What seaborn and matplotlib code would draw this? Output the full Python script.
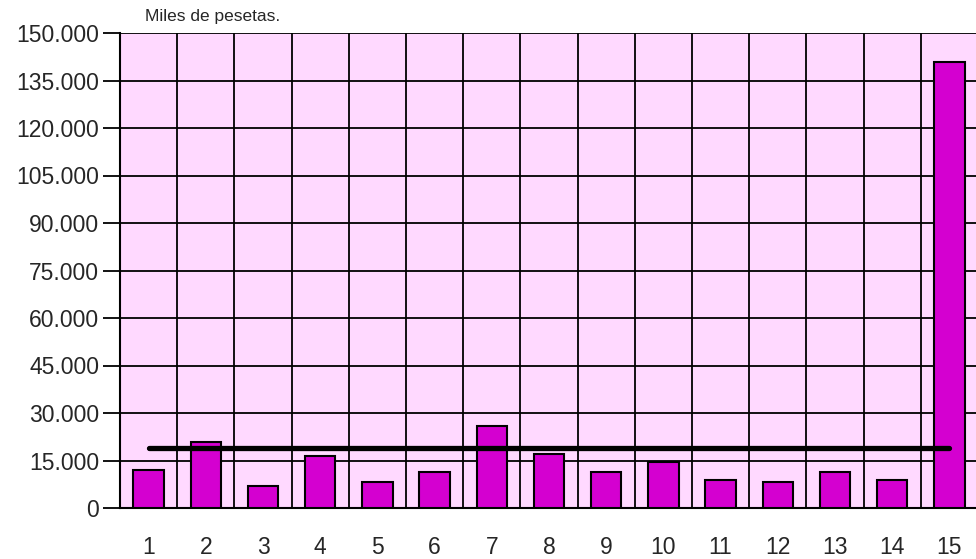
import matplotlib
matplotlib.use("Agg")
import matplotlib.pyplot as plt
import matplotlib.ticker as mticker
import seaborn as sns
import pandas as pd

# values (miles de pesetas)
categories = [str(i) for i in range(1, 16)]
values = [12000, 20700, 6900, 16300, 8200, 11400, 25900, 17000,
          11300, 14500, 8700, 8100, 11400, 8700, 140800]
reference_line = [18900, 18900, 18900, 18900, 18900, 18900, 18900, 18900,
                  18900, 18900, 18900, 18900, 18900, 18900, 18900]
y_ticks = list(range(0, 150001, 15000))

df = pd.DataFrame({"cat": categories, "value": values, "ref": reference_line})

sns.set_style("white")
plt.rcParams["font.family"] = ["Liberation Sans", "DejaVu Sans"]

fig = plt.figure(figsize=(9.76, 5.59), dpi=100)
ax = fig.add_axes([120 / 976, 51 / 559, 858 / 976, 475 / 559])
ax.set_facecolor("#ffd9ff")

sns.barplot(data=df, x="cat", y="value", color="#d400d0", saturation=1,
            width=0.53, edgecolor="black", linewidth=1.5, ax=ax, zorder=3)

sns.lineplot(x=list(range(len(categories))), y=df["ref"], color="black",
             linewidth=3.8, solid_capstyle="round", marker="o", markersize=3,
             markeredgewidth=0, ax=ax, zorder=4)

ax.set_xlim(-0.5, len(categories) - 0.5)
ax.set_ylim(0, 150000)
ax.set_yticks(y_ticks)
ax.yaxis.set_major_formatter(
    mticker.FuncFormatter(lambda v, p: f"{int(v):,}".replace(",", ".")))

# vertical grid on category boundaries
ax.set_xticks([i + 0.5 for i in range(len(categories) - 1)], minor=True)
ax.grid(True, which="minor", axis="x", color="black", linewidth=1.3, zorder=1)
ax.grid(True, which="major", axis="y", color="black", linewidth=1.3, zorder=1)
ax.set_axisbelow(True)

for side in ["top", "right"]:
    ax.spines[side].set_visible(False)
for side in ["left", "bottom"]:
    ax.spines[side].set_color("black")
    ax.spines[side].set_linewidth(1.5)

ax.tick_params(axis="y", which="major", left=True, length=12, width=1.3,
               color="black", labelsize=16.5, pad=3)
ax.tick_params(axis="x", which="major", bottom=False, labelsize=16.5, pad=17)
ax.tick_params(axis="x", which="minor", bottom=False)
ax.set_xlabel("")
ax.set_ylabel("")

fig.text(145 / 976, 1 - 17 / 559, "Miles de pesetas.", fontsize=12.5,
         ha="left", va="center")

fig.savefig("out.png", dpi=100)
